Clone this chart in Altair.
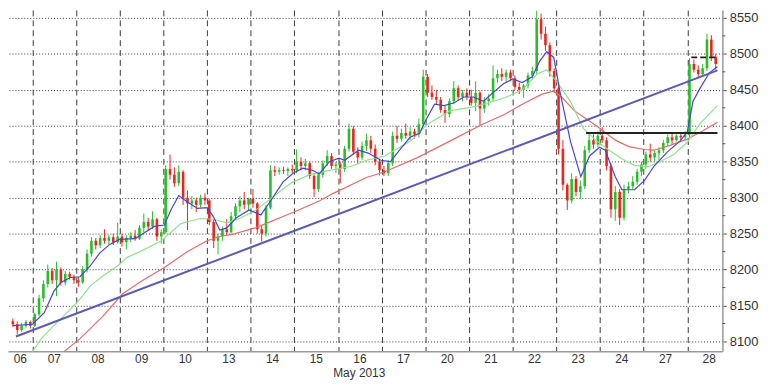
import altair as alt
import pandas as pd

# ---------------- data ----------------
days = ["06", "07", "08", "09", "10", "13", "14", "15", "16", "17",
        "20", "21", "22", "23", "24", "27", "28"]
axis_title = "May 2013"
y_ticks = [8100, 8150, 8200, 8250, 8300, 8350, 8400, 8450, 8500, 8550]
y_minor = [8125, 8175, 8225, 8275, 8325, 8375, 8425, 8475, 8525]

# candles: 10 per trading day, first visible slot = 5 (day 06 afternoon)
first_slot = 5
slots_per_day = 10

open_ = [
    8128, 8124, 8116, 8122, 8127,
    8122, 8138, 8160, 8180, 8198, 8185, 8200, 8182, 8194, 8190,
    8185, 8182, 8200, 8222, 8240, 8234, 8244, 8240, 8245, 8238,
    8246, 8238, 8244, 8247, 8243, 8258, 8266, 8260, 8270, 8246,
    8252, 8340, 8332, 8320, 8336, 8300, 8292, 8296, 8290, 8300,
    8296, 8266, 8240, 8246, 8256, 8252, 8274, 8288, 8296, 8290,
    8298, 8292, 8256, 8250, 8286, 8338, 8336, 8338, 8337, 8340,
    8338, 8350, 8344, 8348, 8330, 8312, 8332, 8348, 8358, 8344,
    8346, 8340, 8368, 8396, 8364, 8356, 8372, 8380, 8368, 8350,
    8338, 8334, 8348, 8386, 8382, 8390, 8386, 8392, 8388, 8402,
    8468, 8446, 8440, 8436, 8422, 8416, 8434, 8452, 8440, 8446,
    8440, 8432, 8446, 8424, 8434, 8438, 8466, 8472, 8468, 8474,
    8466, 8454, 8450, 8456, 8470, 8476, 8548, 8528, 8512, 8476,
    8452, 8368, 8318, 8296, 8326, 8308, 8316, 8366, 8380, 8374,
    8386, 8380, 8344, 8284, 8308, 8272, 8312, 8316, 8322, 8336,
    8346, 8360, 8356, 8362, 8366, 8376, 8384, 8380, 8386, 8384,
    8388, 8486, 8478, 8472, 8480, 8520, 8496,
]
high = [
    8132, 8128, 8126, 8130, 8129,
    8140, 8165, 8185, 8207, 8202, 8211, 8203, 8198, 8197, 8193,
    8190, 8205, 8228, 8245, 8244, 8248, 8256, 8248, 8250, 8265,
    8250, 8248, 8252, 8255, 8262, 8278, 8272, 8281, 8272, 8256,
    8345, 8360, 8342, 8345, 8338, 8310, 8302, 8300, 8304, 8306,
    8298, 8270, 8250, 8260, 8270, 8280, 8292, 8302, 8308, 8300,
    8312, 8294, 8262, 8290, 8345, 8344, 8342, 8343, 8342, 8346,
    8367, 8356, 8354, 8350, 8334, 8336, 8352, 8366, 8362, 8350,
    8350, 8372, 8403, 8400, 8370, 8378, 8389, 8386, 8374, 8354,
    8344, 8352, 8392, 8400, 8396, 8403, 8398, 8396, 8410, 8478,
    8472, 8456, 8450, 8440, 8428, 8438, 8462, 8456, 8450, 8452,
    8450, 8462, 8448, 8440, 8444, 8484, 8478, 8480, 8478, 8478,
    8470, 8460, 8458, 8474, 8482, 8560, 8556, 8538, 8516, 8480,
    8456, 8380, 8320, 8334, 8330, 8324, 8372, 8389, 8388, 8392,
    8398, 8384, 8348, 8316, 8312, 8318, 8322, 8330, 8340, 8350,
    8364, 8375, 8366, 8370, 8380, 8388, 8390, 8388, 8390, 8392,
    8494, 8492, 8484, 8486, 8528, 8526, 8500,
]
low = [
    8120, 8110, 8113, 8119, 8118,
    8120, 8135, 8155, 8175, 8180, 8163, 8178, 8178, 8186, 8180,
    8176, 8180, 8196, 8218, 8228, 8230, 8236, 8235, 8234, 8236,
    8232, 8228, 8238, 8240, 8241, 8252, 8254, 8256, 8240, 8236,
    8250, 8325, 8315, 8316, 8290, 8255, 8284, 8280, 8286, 8290,
    8262, 8230, 8221, 8240, 8248, 8250, 8270, 8280, 8284, 8282,
    8286, 8250, 8239, 8246, 8284, 8330, 8332, 8333, 8330, 8334,
    8334, 8338, 8338, 8326, 8301, 8308, 8328, 8344, 8340, 8334,
    8320, 8336, 8364, 8360, 8347, 8352, 8365, 8362, 8345, 8331,
    8330, 8330, 8344, 8376, 8378, 8382, 8380, 8382, 8384, 8400,
    8440, 8436, 8430, 8418, 8404, 8412, 8430, 8436, 8434, 8436,
    8428, 8420, 8400, 8418, 8428, 8434, 8460, 8462, 8460, 8462,
    8450, 8444, 8439, 8452, 8464, 8472, 8520, 8504, 8468, 8446,
    8360, 8310, 8283, 8292, 8302, 8298, 8312, 8362, 8368, 8370,
    8376, 8338, 8272, 8268, 8262, 8268, 8306, 8312, 8318, 8330,
    8340, 8350, 8350, 8352, 8362, 8372, 8374, 8378, 8380, 8380,
    8384, 8474, 8468, 8468, 8476, 8490, 8478,
]
close = [
    8124, 8116, 8122, 8127, 8122,
    8138, 8160, 8180, 8198, 8185, 8200, 8182, 8194, 8190, 8185,
    8182, 8200, 8222, 8240, 8234, 8244, 8240, 8245, 8238, 8246,
    8238, 8244, 8247, 8243, 8258, 8266, 8260, 8270, 8246, 8252,
    8340, 8332, 8320, 8336, 8300, 8292, 8296, 8290, 8300, 8296,
    8266, 8240, 8246, 8256, 8252, 8274, 8288, 8296, 8290, 8298,
    8292, 8256, 8250, 8286, 8338, 8336, 8338, 8337, 8340, 8338,
    8350, 8344, 8348, 8330, 8312, 8332, 8348, 8358, 8344, 8346,
    8340, 8368, 8396, 8364, 8356, 8372, 8380, 8368, 8350, 8338,
    8334, 8348, 8386, 8382, 8390, 8386, 8392, 8388, 8402, 8468,
    8446, 8440, 8436, 8422, 8416, 8434, 8452, 8440, 8446, 8440,
    8432, 8446, 8424, 8434, 8438, 8466, 8472, 8468, 8474, 8466,
    8454, 8450, 8456, 8470, 8476, 8548, 8528, 8512, 8476, 8452,
    8368, 8318, 8296, 8326, 8308, 8316, 8366, 8380, 8374, 8386,
    8380, 8344, 8284, 8308, 8272, 8312, 8316, 8322, 8336, 8346,
    8360, 8356, 8362, 8366, 8376, 8384, 8380, 8386, 8384, 8388,
    8486, 8478, 8472, 8480, 8520, 8496, 8486,
]

# moving averages (time in trading-day units, value)
blue_t = [0.55, 1.00, 1.27, 1.49, 1.65, 1.87, 2.09, 2.32, 2.54, 2.77, 2.99, 3.35, 3.79, 4.02,
          4.17, 4.35, 4.55, 4.78, 5.00, 5.14, 5.29, 5.45, 5.67, 5.96, 6.23, 6.45, 6.74, 6.97,
          7.19, 7.42, 7.57, 7.80, 8.02, 8.15, 8.47, 8.69, 8.98, 9.20, 9.43, 9.65, 9.87, 10.03,
          10.21, 10.43, 10.66, 10.88, 11.10, 11.33, 11.55, 11.78, 12.00, 12.22, 12.45, 12.62,
          12.78, 12.94, 13.09, 13.32, 13.56, 13.76, 13.99, 14.12, 14.35, 14.50, 14.79, 15.02,
          15.24, 15.55, 15.84, 16.00, 16.13, 16.29, 16.51, 16.69]
blue_v = [8122, 8124, 8140, 8170, 8182, 8189, 8190, 8205, 8223, 8235, 8242, 8243, 8260, 8262,
          8283, 8303, 8294, 8285, 8286, 8274, 8255, 8258, 8272, 8283, 8276, 8295, 8322, 8334,
          8341, 8338, 8333, 8350, 8355, 8352, 8366, 8362, 8352, 8350, 8368, 8384, 8390, 8410,
          8430, 8428, 8432, 8440, 8440, 8434, 8446, 8458, 8465, 8460, 8468, 8490,
          8503, 8495, 8445, 8379, 8329, 8358, 8370, 8366, 8329, 8311, 8311, 8324,
          8344, 8364, 8379, 8392, 8434, 8452, 8474, 8482]

green_t = [1.00, 1.20, 1.49, 1.87, 2.09, 2.32, 2.61, 2.99, 3.17, 3.50, 3.95, 4.40, 4.84, 5.14,
           5.45, 5.74, 6.10, 6.45, 6.74, 6.97, 7.35, 7.80, 8.33, 8.65, 9.07, 9.67, 10.05, 10.57,
           11.17, 11.82, 12.22, 12.56, 12.78, 13.00, 13.32, 13.61, 13.90, 14.21, 14.50, 14.79,
           15.11, 15.40, 15.69, 16.00, 16.29, 16.69]
green_v = [8086, 8104, 8122, 8145, 8159, 8177, 8191, 8207, 8217, 8226, 8240, 8264, 8271, 8270,
           8265, 8271, 8282, 8298, 8312, 8322, 8332, 8338, 8344, 8352, 8358, 8379, 8402, 8421,
           8427, 8439, 8450, 8472, 8478, 8462, 8434, 8397, 8380, 8366, 8354, 8345,
           8343, 8351, 8360, 8377, 8403, 8428]

red_t = [1.60, 2.09, 2.61, 3.06, 3.50, 4.02, 4.55, 5.00, 5.29, 5.58, 6.10, 6.99, 7.59, 7.89,
         8.65, 9.07, 9.83, 10.57, 11.31, 11.82, 12.22, 12.67, 12.94, 13.12, 13.41, 13.72, 13.99,
         14.35, 14.66, 15.02, 15.24, 15.62, 15.98, 16.36, 16.69]
red_v = [8080, 8104, 8135, 8166, 8184, 8203, 8225, 8240, 8246, 8249, 8258, 8280, 8296, 8306,
         8328, 8336, 8356, 8379, 8402, 8416, 8430, 8444, 8448, 8440, 8421, 8408, 8397,
         8380, 8371, 8367, 8366, 8373, 8381, 8393, 8405]

trend_t = [0.62, 16.69]
trend_v = [8107, 8477]
support_t = [13.68, 16.69]
support_v = [8390, 8390]
resist_t = [16.09, 16.69]
resist_v = [8495, 8495]

# ---------------- frames ----------------
x_lo, x_hi = 0.552, 16.69
n = len(open_)
slot_t = [(first_slot + i + 0.5) / slots_per_day for i in range(n)]
candles = pd.DataFrame({"t": slot_t, "open": open_, "high": high, "low": low, "close": close})
up = candles[candles["close"] >= candles["open"]]
down = candles[candles["close"] < candles["open"]]

red_df = pd.DataFrame({"t": red_t, "v": red_v})
green_df = pd.DataFrame({"t": green_t, "v": green_v})
blue_df = pd.DataFrame({"t": blue_t, "v": blue_v})
trend = pd.DataFrame({"t": trend_t, "v": trend_v})
support = pd.DataFrame({"t": support_t, "v": support_v})
resist = pd.DataFrame({"t": resist_t, "v": resist_v})
# day labels centred in each day; the first (partly visible) day keeps its label inside
day_lab = pd.DataFrame({"t": [max(k + 0.5, x_lo + 0.17) for k in range(len(days))], "lab": days})
minor = pd.DataFrame({"v": y_minor})
title_df = pd.DataFrame({"lab": [axis_title]})

FONT = "Liberation Sans"
xscale = alt.Scale(domain=[x_lo, x_hi], nice=False, zero=False)
yscale = alt.Scale(domain=[8086.3, 8561], nice=False, zero=False)
xaxis = alt.Axis(values=list(range(1, len(days))), grid=True, gridDash=[6, 4],
                 gridColor="#3a3a3a", gridWidth=1, labels=False, ticks=False,
                 domain=True, domainColor="#9a9a9a", domainWidth=1.5, title=None)
yaxis = alt.Axis(orient="right", values=y_ticks, format="d", grid=True, gridDash=[1, 2],
                 gridColor="#3a3a3a", gridWidth=1, domainColor="#9a9a9a", domainWidth=1.5,
                 tickColor="#555555", tickSize=4, labelFont=FONT, labelFontSize=13,
                 labelColor="#333333", labelPadding=3, title=None)


def X(field="t"):
    return alt.X(f"{field}:Q", scale=xscale, axis=xaxis)


def Y(field):
    return alt.Y(f"{field}:Q", scale=yscale, axis=yaxis)


UP = "#27bf27"
DOWN = "#e8261f"


def candle_layers(df, col):
    w = alt.Chart(df).mark_rule(strokeWidth=1, clip=True, color=col).encode(
        x=X(), y=Y("low"), y2="high")
    b = alt.Chart(df).mark_bar(size=2.6, clip=True, color=col).encode(
        x=X(), y=Y("open"), y2="close")
    return [w, b]


def line(df, col, w=1.2, dash=None):
    kw = dict(color=col, strokeWidth=w, clip=True)
    if dash:
        kw["strokeDash"] = dash
    return alt.Chart(df).mark_line(**kw).encode(x=X(), y=Y("v"))


minor_ticks = alt.Chart(minor).mark_rule(color="#555555", strokeWidth=1).encode(
    y=Y("v"), x=alt.value(722), x2=alt.value(725))

labels = alt.Chart(day_lab).mark_text(font=FONT, fontSize=12, color="#333333",
                                      baseline="middle", align="center").encode(
    x=X(), y=alt.value(353), text="lab:N")
month = alt.Chart(title_df).mark_text(font=FONT, fontSize=12, color="#333333",
                                      baseline="middle", align="center").encode(
    x=alt.value(355), y=alt.value(367), text="lab:N")

layers = (candle_layers(up, UP) + candle_layers(down, DOWN) + [
    line(red_df, "#e86a6a"),
    line(green_df, "#8ee28e"),
    line(blue_df, "#4545d0"),
    line(trend, "#5a5ab8", 2),
    line(support, "#222222", 2),
    line(resist, "#222222", 1.8, [6, 3]),
    minor_ticks, labels, month,
])

chart = alt.layer(*layers).properties(
    width=722, height=345,
    autosize=alt.AutoSizeParams(type="none"),
    padding={"left": 0, "top": 0, "right": 38, "bottom": 30},
    background="white",
).configure_view(stroke=None)

chart.save("out.html", embed_options={"renderer": "svg", "actions": False})
